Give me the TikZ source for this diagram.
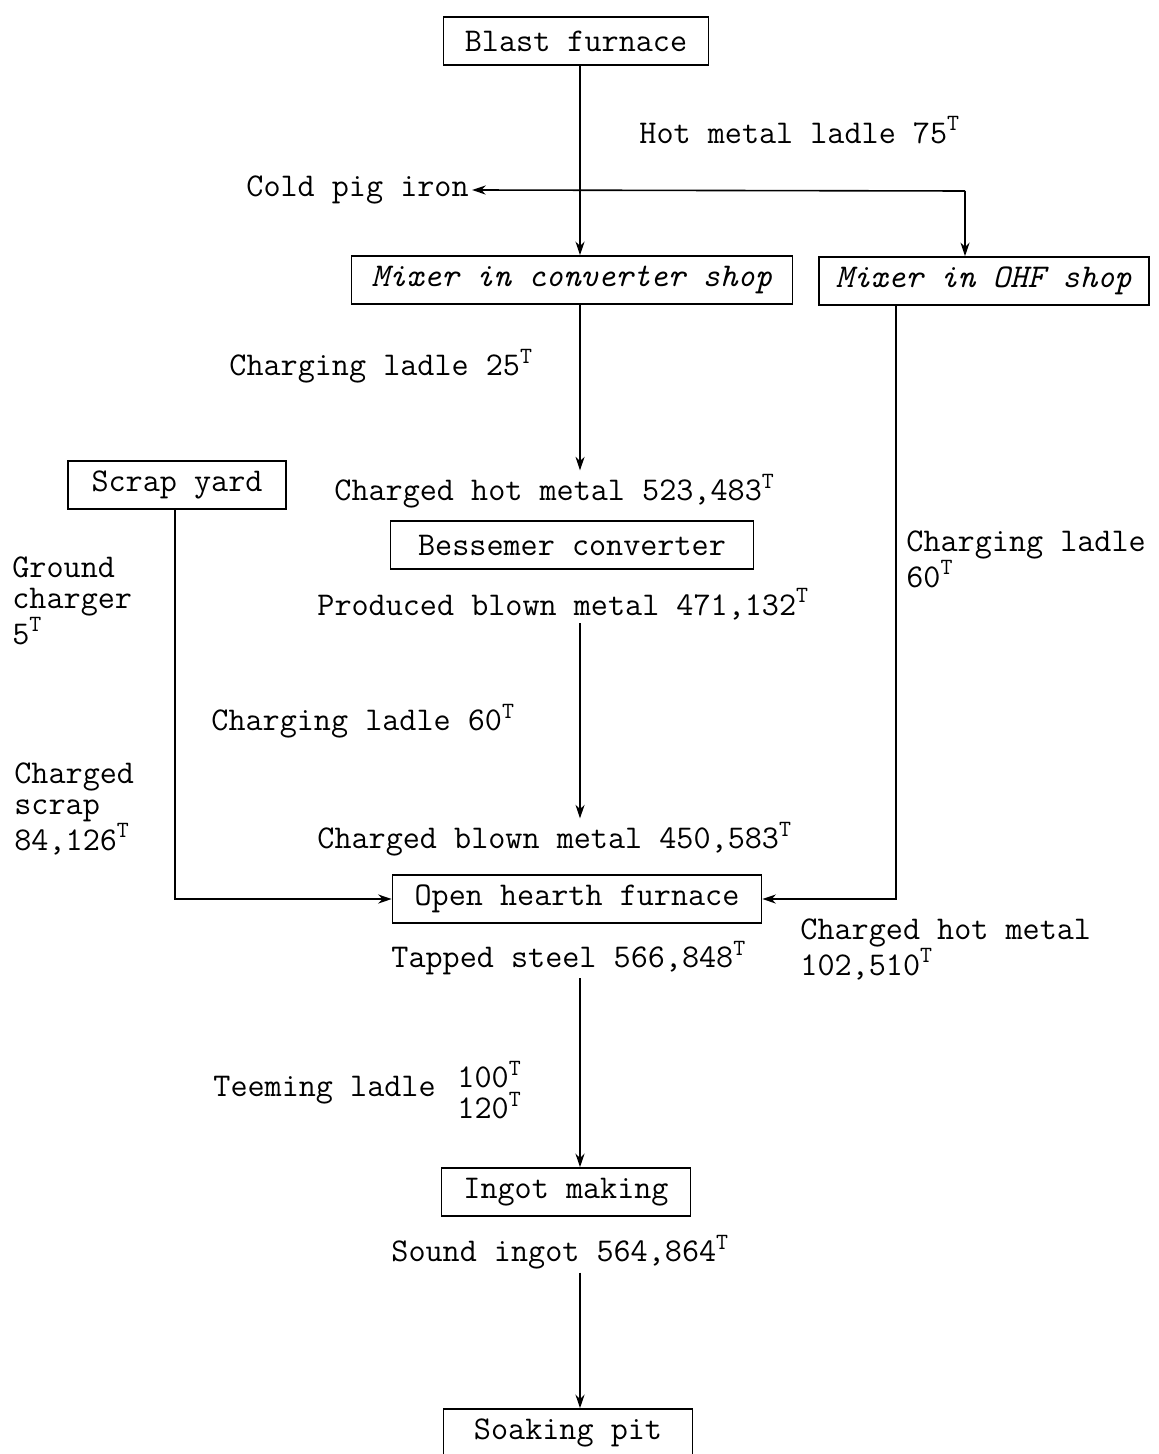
\documentclass[tikz,border=0pt]{standalone}
\usetikzlibrary{arrows.meta,positioning}
\tikzset{
  >={Stealth[length=2.4mm,width=1.6mm]},
  flow/.style={->,thick},
  box/.style={draw,thick,minimum height=24pt,inner sep=2pt},
  lbl/.style={inner sep=1.5pt,anchor=west},
  lblmulti/.style={inner sep=0pt,anchor=north west,align=left,
    font=\ttfamily\fontsize{16.6}{15.5}\selectfont}
}
\begin{document}
\begin{tikzpicture}[x=0.5pt,y=-0.5pt,font=\ttfamily\fontsize{16.6}{15.5}\selectfont]
    \useasboundingbox (0,0) rectangle (1159,1454);
    \coordinate (spine) at (580,0);
    \coordinate (ohfx) at (896,0);
    \coordinate (scrapx) at (175,0);

    % process boxes
    \node[box,minimum width=132.5pt] (blast) at (576,41) {Blast furnace};
    \node[box,minimum width=220.5pt,font=\ttfamily\fontsize{16.6}{15.5}\selectfont\itshape] (mixconv) at (572,280) {Mixer in converter shop};
    \node[box,minimum width=165pt,font=\ttfamily\fontsize{16.6}{15.5}\selectfont\itshape] (mixohf) at (984,281) {Mixer in OHF shop};
    \node[box,minimum width=109pt] (scrap) at (177,485) {Scrap yard};
    \node[box,minimum width=181.5pt] (bessemer) at (572,545) {Bessemer converter};
    \node[box,minimum width=184.5pt] (ohf) at (577,899) {Open hearth furnace};
    \node[box,minimum width=124.5pt] (ingot) at (566,1192) {Ingot making};
    \node[box,minimum width=124.5pt] (soak) at (568,1433) {Soaking pit};

    % flow labels
    \node[lbl] (hotlbl) at (636,130) {Hot metal ladle 75\textsuperscript{T}};
    \node[lbl] (cold) at (243,190) {Cold pig iron};
    \node[lbl] (chl25) at (226,366) {Charging ladle 25\textsuperscript{T}};
    \node[lbl] (chm) at (331,491) {Charged hot metal 523,483\textsuperscript{T}};
    \node[lbl] (pbm) at (314,604) {Produced blown metal 471,132\textsuperscript{T}};
    \node[lbl] (chl60) at (208,721) {Charging ladle 60\textsuperscript{T}};
    \node[lbl] (cbm) at (314,839) {Charged blown metal 450,583\textsuperscript{T}};
    \node[lbl] (tapped) at (388,958) {Tapped steel 566,848\textsuperscript{T}};
    \node[lbl] (teem) at (210,1090) {Teeming ladle};
    \node[lblmulti,anchor=west,right=9pt of teem] (teemtons) {100\textsuperscript{T}\\120\textsuperscript{T}};
    \node[lbl] (sound) at (388,1252) {Sound ingot 564,864\textsuperscript{T}};
    \node[lblmulti] (chlohf) at (906,530) {Charging ladle\\60\textsuperscript{T}};
    \node[lblmulti] (ground) at (12,556) {Ground\\charger\\5\textsuperscript{T}};
    \node[lblmulti] (cscrap) at (14,762) {Charged\\scrap\\84,126\textsuperscript{T}};
    \node[lblmulti] (chm2) at (800,918) {Charged hot metal\\102,510\textsuperscript{T}};

    % connectors
    \coordinate (split) at (965,191);
    \draw[flow] (blast.south -| spine) -- (mixconv.north -| spine);
    \draw[flow] (split) -- (cold.east);
    \draw[flow] (split) -- (split |- mixohf.north);
    \draw[flow] (mixconv.south -| spine) -- (chm.north -| spine);
    \draw[flow] (pbm.south -| spine) -- (cbm.north -| spine);
    \draw[flow] (scrap.south -| scrapx) |- (ohf.west);
    \draw[flow] (mixohf.south -| ohfx) |- (ohf.east);
    \draw[flow] (tapped.south -| spine) -- (ingot.north -| spine);
    \draw[flow] (sound.south -| spine) -- (soak.north -| spine);
\end{tikzpicture}
\end{document}
